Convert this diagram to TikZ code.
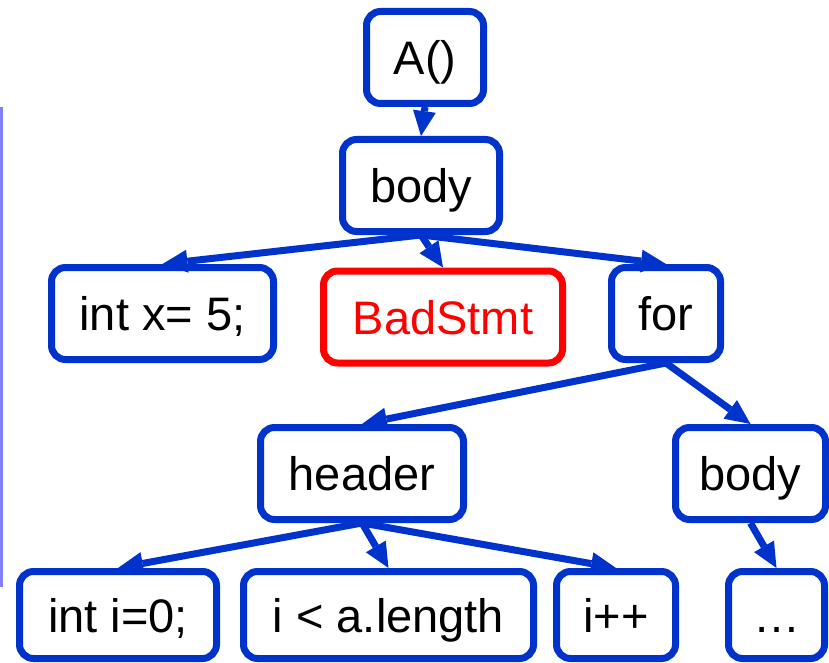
\documentclass[tikz,border=0pt]{standalone}
\usepackage{fontspec}
\setmainfont{Liberation Sans}
\usetikzlibrary{arrows.meta}
\definecolor{treeblue}{RGB}{0,51,204}
\definecolor{barblue}{RGB}{128,128,255}
\begin{document}
\begin{tikzpicture}[x=1pt,y=-1pt,
  box/.style={draw=treeblue, line width=7pt, rounded corners=14pt, fill=white,
    inner sep=0pt, minimum height=92pt, text height=34pt, text depth=0pt,
    font=\fontsize{47}{56}\selectfont},
  lowbox/.style={box, minimum height=87pt},
  badbox/.style={box, draw=red, text=red},
  edge/.style={treeblue, line width=7pt,
    -{Triangle[width=23pt,length=25pt,line width=0pt]}}]
\useasboundingbox (0,0) rectangle (829,663);

% thin bar along the left margin
\fill[barblue] (0,107) rectangle (3,587);

% tree nodes
\node[box, minimum width=117pt] (A)      at (425,57.5)  {A()};
\node[box, minimum width=157pt] (body)   at (421,185.5) {body};
\node[box, minimum width=222pt] (intx)   at (162.5,313.5) {int x= 5;};
\node[badbox, minimum width=239pt] (bad) at (443,317)   {BadStmt};
\node[box, minimum width=109pt] (for)    at (666,313.5) {for};
\node[box, minimum width=203pt] (header) at (362,473.5) {header};
\node[box, minimum width=150pt] (fbody)  at (750.5,473.5) {body};
\node[lowbox, minimum width=197pt] (init) at (118,615)  {int i=0;};
\node[lowbox, minimum width=290pt] (cond) at (388.5,615) {i < a.length};
\node[lowbox, minimum width=119pt] (incr) at (616,615)  {i++};
\node[lowbox, minimum width=96pt] (rest)  at (776.5,615) {…};

% parent-to-child arrows
\draw[edge] (A.south) -- (body.north);
\draw[edge] (body.south) -- (intx.north);
\draw[edge] (body.south) -- (bad.north);
\draw[edge] (body.south) -- (for.north);
\draw[edge] (for.south) -- (header.north);
\draw[edge] (for.south) -- (fbody.north);
\draw[edge] (header.south) -- (init.north);
\draw[edge] (header.south) -- (cond.north);
\draw[edge] (header.south) -- (incr.north);
\draw[edge] (fbody.south) -- (rest.north);
\end{tikzpicture}
\end{document}
